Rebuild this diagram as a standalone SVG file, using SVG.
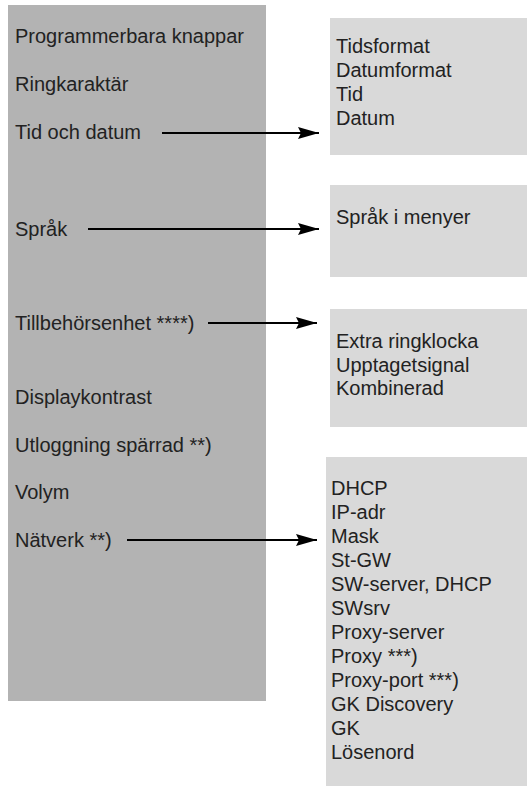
<svg xmlns="http://www.w3.org/2000/svg" width="527" height="786" viewBox="0 0 527 786">
<defs>
<style>
.panel{fill:#b3b3b3}
.box{fill:#d9d9d9}
text{font-family:"Liberation Sans",Arial,sans-serif;font-size:20px;fill:#222}
.conn{stroke:#000;stroke-width:2;fill:none}
</style>
<marker id="ah" markerWidth="21" markerHeight="12" refX="21" refY="6" orient="auto" markerUnits="userSpaceOnUse">
<path d="M0,0 L21,6 L0,12 L3,6 Z" fill="#000"/>
</marker>
</defs>
<g id="menu">
<rect class="panel" x="8" y="5" width="258" height="696"/>
<text x="15" y="43">Programmerbara knappar</text>
<text x="15" y="91">Ringkaraktär</text>
<text x="15" y="139">Tid och datum</text>
<text x="15" y="236">Språk</text>
<text x="15" y="330">Tillbehörsenhet ****)</text>
<text x="15" y="404">Displaykontrast</text>
<text x="15" y="452">Utloggning spärrad **)</text>
<text x="15" y="499">Volym</text>
<text x="15" y="547">Nätverk **)</text>
</g>
<g id="tid">
<rect class="box" x="330" y="18" width="197" height="137"/>
<text x="336" y="53">Tidsformat</text>
<text x="336" y="77">Datumformat</text>
<text x="336" y="101">Tid</text>
<text x="336" y="125">Datum</text>
</g>
<g id="sprak">
<rect class="box" x="330" y="185" width="197" height="92"/>
<text x="336" y="224">Språk i menyer</text>
</g>
<g id="tillbehor">
<rect class="box" x="330" y="309" width="197" height="118"/>
<text x="336" y="348">Extra ringklocka</text>
<text x="336" y="371.5">Upptagetsignal</text>
<text x="336" y="395">Kombinerad</text>
</g>
<g id="natverk">
<rect class="box" x="326" y="457" width="201" height="329"/>
<text x="331" y="495">DHCP</text>
<text x="331" y="519">IP-adr</text>
<text x="331" y="543">Mask</text>
<text x="331" y="567">St-GW</text>
<text x="331" y="591">SW-server, DHCP</text>
<text x="331" y="615">SWsrv</text>
<text x="331" y="639">Proxy-server</text>
<text x="331" y="663">Proxy ***)</text>
<text x="331" y="687">Proxy-port ***)</text>
<text x="331" y="711">GK Discovery</text>
<text x="331" y="735">GK</text>
<text x="331" y="759">Lösenord</text>
</g>
<g id="connectors">
<line class="conn" x1="162" y1="133" x2="319" y2="133" marker-end="url(#ah)"/>
<line class="conn" x1="88" y1="229" x2="319" y2="229" marker-end="url(#ah)"/>
<line class="conn" x1="208" y1="323" x2="317" y2="323" marker-end="url(#ah)"/>
<line class="conn" x1="127" y1="540" x2="317" y2="540" marker-end="url(#ah)"/>
</g>
</svg>
